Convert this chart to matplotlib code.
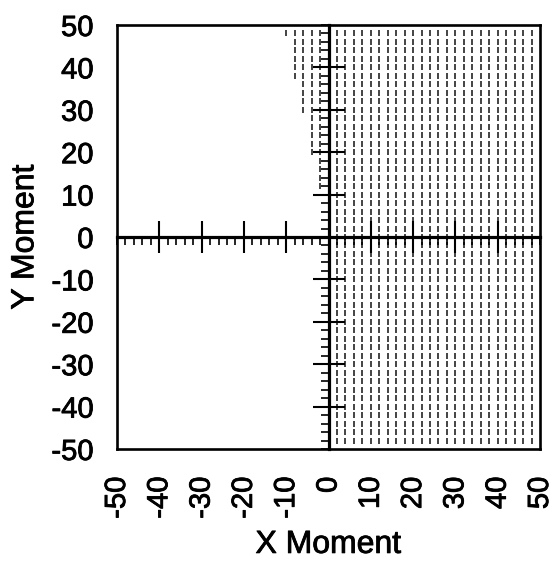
import matplotlib
matplotlib.use("Agg")
import matplotlib.pyplot as plt
import matplotlib.patheffects as pe
from matplotlib.ticker import FixedLocator, MultipleLocator

plt.rcParams['font.family'] = ['Liberation Sans', 'DejaVu Sans']

# ---- data ----
x_ticks = [-50, -40, -30, -20, -10, 0, 10, 20, 30, 40, 50]
y_ticks = [-50, -40, -30, -20, -10, 0, 10, 20, 30, 40, 50]
center_major = [-40, -30, -20, -10, 10, 20, 30, 40]

# shaded (dashed) region: columns of the dash grid and the lowest row present in each
col_x = [-10, -8, -6, -4, -2, 2, 4, 6, 8, 10, 12, 14, 16, 18, 20, 22, 24,
         26, 28, 30, 32, 34, 36, 38, 40, 42, 44, 46, 48]
col_ymin = [48, 38, 30, 20, 12] + [-48] * 24
row_y = [-48, -46, -44, -42, -40, -38, -36, -34, -32, -30, -28, -26, -24, -22,
         -20, -18, -16, -14, -12, -10, -8, -6, -4, -2, 0, 2, 4, 6, 8, 10, 12,
         14, 16, 18, 20, 22, 24, 26, 28, 30, 32, 34, 36, 38, 40, 42, 44, 46, 48]

W, H, DPI = 557, 562, 100
fig = plt.figure(figsize=(W / DPI, H / DPI), dpi=DPI)
pos = [117 / W, 1 - 449 / H, (540 - 117) / W, (449 - 25) / H]

ax = fig.add_axes(pos)
ax.set_xlim(-50, 50)
ax.set_ylim(-50, 50)

px, py = [], []
for cx, ymin in zip(col_x, col_ymin):
    for ry in row_y:
        if ry >= ymin:
            px.append(cx)
            py.append(ry)
ax.plot(px, py, linestyle='none', marker='|', markersize=4.2,
        markeredgewidth=1.1, color='#111111')

for s in ax.spines.values():
    s.set_linewidth(1.9)
    s.set_color('black')
ax.set_xticks(x_ticks)
ax.set_yticks(y_ticks)
ax.set_xticklabels([str(v) for v in x_ticks], rotation=90)
ax.set_yticklabels([str(v) for v in y_ticks])
ax.tick_params(axis='both', length=0, labelsize=21)
ax.tick_params(axis='x', pad=20)
ax.tick_params(axis='y', pad=17)
ax.set_xlabel('X Moment', fontsize=23, labelpad=8)
ax.set_ylabel('Y Moment', fontsize=23, labelpad=8)

heavy = [pe.withStroke(linewidth=0.6, foreground='black')]
for t in ax.get_xticklabels() + ax.get_yticklabels():
    t.set_path_effects(heavy)
ax.xaxis.label.set_path_effects(heavy)
ax.yaxis.label.set_path_effects(heavy)

# central cross axes
ax2 = fig.add_axes(pos, facecolor='none')
ax2.set_xlim(-50, 50)
ax2.set_ylim(-50, 50)
for side in ('top', 'right'):
    ax2.spines[side].set_visible(False)
for side in ('left', 'bottom'):
    ax2.spines[side].set_position(('data', 0))
    ax2.spines[side].set_linewidth(2.3)
ax2.xaxis.set_major_locator(FixedLocator(center_major))
ax2.yaxis.set_major_locator(FixedLocator(center_major))
ax2.xaxis.set_minor_locator(MultipleLocator(2))
ax2.yaxis.set_minor_locator(MultipleLocator(2))
ax2.tick_params(which='major', direction='inout', length=23, width=1.5,
                labelbottom=False, labelleft=False)
ax2.tick_params(which='minor', direction='out', length=5.5, width=1.2)

fig.savefig('out.png', dpi=DPI)
